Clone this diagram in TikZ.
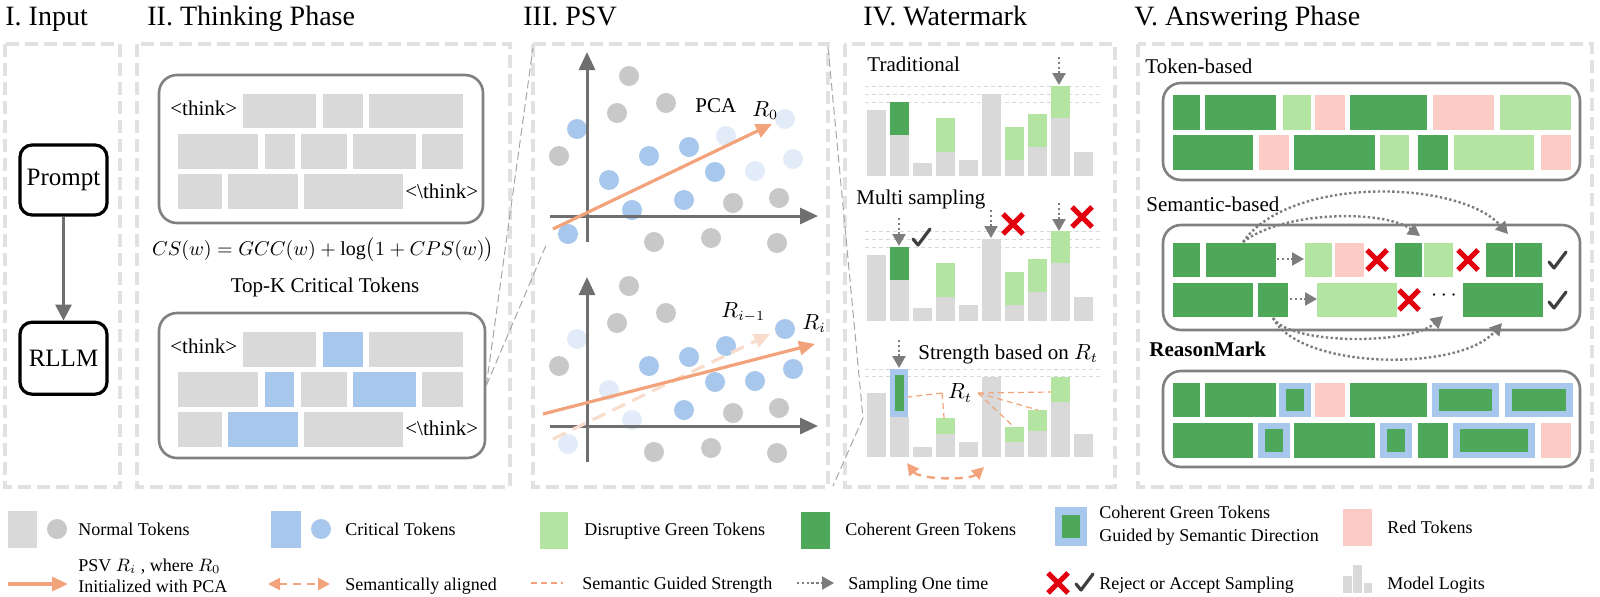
\documentclass[tikz,border=0pt]{standalone}
\usepackage{fontspec}
\setmainfont{Liberation Serif}
\usetikzlibrary{
  arrows.meta,
  positioning
}
\definecolor{tokengray}{HTML}{D9D9D9}
\definecolor{dotgray}{HTML}{C8C8C8}
\definecolor{critblue}{HTML}{A7C8EC}
\definecolor{paleblue}{HTML}{E2ECF8}
\definecolor{lightgreen}{HTML}{B4E4A1}
\definecolor{darkgreen}{HTML}{4DA85A}
\definecolor{redtoken}{HTML}{FBCBC5}
\definecolor{psvorange}{HTML}{F2A37B}
\definecolor{paleorange}{HTML}{F8DCCC}
\definecolor{axisgray}{HTML}{6F6F6F}
\definecolor{panelgray}{HTML}{E1E1E1}
\definecolor{boxgray}{HTML}{808080}
\definecolor{rejectred}{HTML}{E2000F}
\definecolor{acceptgray}{HTML}{3F3F3F}
\tikzset{
%
  % For the dashed frames of the phases.
  panel/.style={
    draw=panelgray,
    line width=1.6pt,
    dash pattern=on 6.5pt off 3pt},
%
  % For the titles of the phases.
  title/.style={
    anchor=base west,
    inner sep=0pt,
    font=\fontsize{14}{16}\selectfont},
%
  % For texts inside the phases.
  caption/.style={
    anchor=base west,
    inner sep=0pt,
    font=\fontsize{10.5}{12}\selectfont},
%
  % For texts of the legend.
  legend/.style={
    anchor=base west,
    inner sep=0pt,
    align=left,
    font=\fontsize{9}{11.5}\selectfont},
%
  % For the boxes of the input.
  input box/.style={
    draw,
    line width=1.6pt,
    rounded corners=6pt,
    minimum width=43.5pt,
    minimum height=35pt,
    font=\fontsize{12.5}{14}\selectfont},
%
  % For the boxes round a token sequence.
  seq box/.style={
    draw=boxgray,
    line width=1.3pt,
    rounded corners=9pt},
%
  % For the flow from the prompt to the model.
  flow/.style={
    draw=axisgray,
    line width=1.5pt,
    -{Triangle[length=8pt,width=8pt]}},
%
  % For the axes of the PSV plots.
  axis/.style={
    draw=axisgray,
    line width=1.5pt,
    -{Triangle[length=9pt,width=8pt]}},
%
  % For the semantic vector.
  psv/.style={
    draw=psvorange,
    line width=1.6pt,
    -{Triangle[length=8pt,width=7pt]}},
%
  % For the previous semantic vector.
  old psv/.style={
    draw=paleorange,
    line width=1.6pt,
    dash pattern=on 7pt off 4pt,
    -{Triangle[length=8pt,width=7pt]}},
%
  % For semantically aligned tokens.
  aligned/.style={
    draw=psvorange,
    line width=1.2pt,
    dash pattern=on 4pt off 3pt,
    {Triangle[length=6pt,width=6pt]}-{Triangle[length=6pt,width=6pt]}},
%
  % For the semantic guided strength.
  strength/.style={
    draw=psvorange,
    line width=0.6pt,
    dash pattern=on 3pt off 2pt},
%
  % For sampling one time.
  sample/.style={
    draw=axisgray!90,
    line width=1.2pt,
    dash pattern=on 1.2pt off 1.2pt,
    -{Triangle[length=6pt,width=6.5pt]}},
%
  % For the levels of the logits.
  level/.style={
    draw=tokengray,
    line width=0.5pt,
    dash pattern=on 2pt off 1.5pt},
%
  % For the zoom lines between phases.
  zoom line/.style={
    draw=gray!70,
    line width=0.5pt,
    dash pattern=on 4pt off 2pt},
%
  % For a rejected sample.
  reject/.pic={
    \draw[rejectred, line width=2.5pt] (-10,-10) -- (10,10) (-10,10) -- (10,-10);},
%
  % For an accepted sample.
  accept/.pic={
    \draw[acceptgray, line width=1.6pt, line cap=round, line join=round]
      (-8,1) -- (-3,7) -- (9,-9);}
}

\begin{document}
\begin{tikzpicture}[x=0.5pt, y=-0.5pt]
  \useasboundingbox (0,0) rectangle (1600,596);

  % phases
  \draw[panel] (5,44) rectangle (120,487);
  \draw[panel] (137,44) rectangle (510,487);
  \draw[panel] (533,44) rectangle (828,487);
  \draw[panel] (845,44) rectangle (1115,487);
  \draw[panel] (1138,44) rectangle (1592,487);
  \node[title] (T1) at (5,25) {I. Input};
  \node[title] (T2) at (147,25) {II. Thinking Phase};
  \node[title] (T3) at (523,25) {III. PSV};
  \node[title] (T4) at (863,25) {IV. Watermark};
  \node[title] (T5) at (1134,25) {V. Answering Phase};

  % I. Input
  \node[input box] (P) at (63.5,180) {Prompt};
  \node[input box, minimum height=36pt] (M) [below=52pt of P] {RLLM};
  \draw[flow] (P) -- (M);

  % II. Thinking Phase
  \node[seq box, minimum width=162pt, minimum height=74pt] (Think) at (321,149) {};
  \foreach \a/\b in {243/316,323/363,369/463}
    \fill[tokengray] (\a,94) rectangle (\b,128);
  \foreach \a/\b in {178/258,265/295,301/347,353/416,422/463}
    \fill[tokengray] (\a,134) rectangle (\b,169);
  \foreach \a/\b in {178/222,228/298,304/403}
    \fill[tokengray] (\a,174) rectangle (\b,209);
  \node[caption] (Th1) at (170,115) {<think>};
  \node[caption] (Th2) at (405,198) {<\textbackslash think>};

  \node[anchor=base, inner sep=0pt, font=\fontsize{10}{12}\selectfont] (CS)
    at (323,255) {$CS(w) = GCC(w) + \log\bigl(1 + CPS(w)\bigr)$};
  \node[caption, anchor=base] (TopK) at (325,292) {Top-K Critical Tokens};

  \node[seq box, minimum width=163pt, minimum height=72.5pt] (Crit) at (322,385.5) {};
  \foreach \a/\b/\c in {243/316/tokengray,323/363/critblue,369/463/tokengray}
    \fill[\c] (\a,332) rectangle (\b,367);
  \foreach \a/\b/\c in {178/258/tokengray,265/294/critblue,301/347/tokengray,
                        353/416/critblue,422/463/tokengray}
    \fill[\c] (\a,372) rectangle (\b,407);
  \foreach \a/\b/\c in {178/222/tokengray,228/298/critblue,304/403/tokengray}
    \fill[\c] (\a,412) rectangle (\b,447);
  \node[caption] (Th3) at (170,353) {<think>};
  \node[caption] (Th4) at (405,435) {<\textbackslash think>};

  % III. PSV
  \coordinate (PsvTop) at (533,48);
  \coordinate (PsvLow) at (547,243);
  \draw[zoom line] (Crit.east) -- (PsvTop);
  \draw[zoom line] (Crit.east) -- (PsvLow);

  \foreach \x/\y in {629/76,617/113,666/103,559/156,733/203,779/198,654/242,711/238,777/243,
                     629/286,617/323,666/313,559/366,733/413,779/408,654/452,711/448,777/453}
    \fill[dotgray] (\x,\y) circle (5pt);
  \foreach \x/\y in {577/129,649/156,689/147,609/180,715/172,632/210,684/200,568/234,
                     649/366,689/357,715/382,684/410,726/346,785/329,755/381,793/369}
    \fill[critblue] (\x,\y) circle (5pt);
  \foreach \x/\y in {726/136,785/119,755/171,793/159,
                     577/339,609/390,632/420,568/444}
    \fill[paleblue] (\x,\y) circle (5pt);

  \coordinate (X1a) at (550,216);
  \coordinate (X1b) at (818,216);
  \coordinate (Y1a) at (587,242);
  \coordinate (Y1b) at (587,52);
  \coordinate (X2a) at (550,426);
  \coordinate (X2b) at (818,426);
  \coordinate (Y2a) at (587,462);
  \coordinate (Y2b) at (587,277);
  \draw[axis] (X1a) -- (X1b);
  \draw[axis] (Y1a) -- (Y1b);
  \draw[axis] (X2a) -- (X2b);
  \draw[axis] (Y2a) -- (Y2b);

  \coordinate (R0a) at (553,229);
  \coordinate (R0b) at (772,124);
  \coordinate (Rpa) at (553,439);
  \coordinate (Rpb) at (770,334);
  \coordinate (Ria) at (543,414);
  \coordinate (Rib) at (815,344);
  \draw[psv] (R0a) -- (R0b);
  \draw[old psv] (Rpa) -- (Rpb);
  \draw[psv] (Ria) -- (Rib);
  \node[caption] (PCA) at (695,112) {PCA};
  \node[caption] (R0) at (752,116) {$R_0$};
  \node[caption] (Rp) at (721,317) {$R_{i-1}$};
  \node[caption] (Ri) at (802,329) {$R_i$};

  % IV. Watermark
  \coordinate (PsvNE) at (828,47);
  \coordinate (PsvSE) at (833,486);
  \coordinate (Focus) at (863,418);
  \draw[zoom line] (PsvNE) -- (Focus) -- (PsvSE);

  \node[caption] (Trad) at (867,71) {Traditional};
  \node[caption] (Multi) at (856,204) {Multi sampling};
  \node[caption] (Str) at (918,359) {Strength based on $R_t$};

  \foreach \l in {86,94,102,231,239,247,369,376}
    \draw[level] (865,\l) -- (1103,\l);
  \foreach \base in {176,321} {
    \foreach \k/\h in {0/66,1/41,2/13,3/24,4/16,5/82,6/16,7/29,8/58,9/24}
      \fill[tokengray] ({867+23*\k},\base) rectangle ++(18.5,-\h);
    \foreach \k/\h/\g/\c in {1/41/33/darkgreen,3/24/34/lightgreen,6/16/33/lightgreen,
                             7/29/33/lightgreen,8/58/32/lightgreen}
      \fill[\c] ({867+23*\k},{\base-\h}) rectangle ++(18.5,-\g);
  }
  \foreach \k/\h in {0/64,1/40,2/10,3/23,4/15,5/80,6/15,7/26,8/55,9/23}
    \fill[tokengray] ({867+23*\k},457) rectangle ++(18.5,-\h);
  \foreach \k/\h/\g in {3/23/16,6/15/15,7/26/21,8/55/25}
    \fill[lightgreen] ({867+23*\k},{457-\h}) rectangle ++(18.5,-\g);
  \fill[critblue] (890,417) rectangle (908,369);
  \fill[darkgreen] (894.5,411) rectangle (903.5,375);

  \coordinate (Ta) at (1059,57);
  \coordinate (Tb) at (1059,85);
  \coordinate (Ma1) at (899,218);
  \coordinate (Mb1) at (899,246);
  \coordinate (Ma2) at (991,210);
  \coordinate (Mb2) at (991,238);
  \coordinate (Ma3) at (1059,203);
  \coordinate (Mb3) at (1059,231);
  \coordinate (Sa) at (899,340);
  \coordinate (Sb) at (899,368);
  \draw[sample] (Ta) -- (Tb);
  \draw[sample] (Ma1) -- (Mb1);
  \draw[sample] (Ma2) -- (Mb2);
  \draw[sample] (Ma3) -- (Mb3);
  \draw[sample] (Sa) -- (Sb);
  \pic at (921,238) {accept};
  \pic at (1013,224) {reject};
  \pic at (1082,217) {reject};

  \node[font=\fontsize{10.5}{12}\selectfont, minimum width=17.5pt, inner sep=0pt]
    (Rt) at (960,393) {$R_t$};
  \coordinate (Bar1) at (908,397);
  \coordinate (Bar3) at (944,418);
  \coordinate (Bar6) at (1014,427);
  \coordinate (Bar7) at (1038,410);
  \coordinate (Bar8) at (1051,392);
  \draw[strength] (Rt.west) -- (Bar1);
  \draw[strength] (Rt.west) -- (Bar3);
  \draw[strength] (Rt.east) -- (Bar6);
  \draw[strength] (Rt.east) -- (Bar7);
  \draw[strength] (Rt.east) -- (Bar8);
  \coordinate (Al1) at (907,463);
  \coordinate (Al2) at (984,467);
  \draw[aligned] (Al1) .. controls (920,480) and (970,480) .. (Al2);

  % V. Answering Phase
  \node[caption] (Tok) at (1145,73) {Token-based};
  \node[seq box, minimum width=208.5pt, minimum height=48.5pt] (TokBox) at (1371.5,131.5) {};
  \foreach \a/\b/\c in {1173/1200/darkgreen,1205/1276/darkgreen,1283/1311/lightgreen,
                        1315/1345/redtoken,1350/1427/darkgreen,1433/1494/redtoken,
                        1500/1571/lightgreen}
    \fill[\c] (\a,95) rectangle (\b,130);
  \foreach \a/\b/\c in {1173/1253/darkgreen,1259/1289/redtoken,1294/1375/darkgreen,
                        1380/1409/lightgreen,1418/1448/darkgreen,1454/1534/lightgreen,
                        1541/1571/redtoken}
    \fill[\c] (\a,135) rectangle (\b,170);

  \node[caption] (Sem) at (1146,211) {Semantic-based};
  \node[seq box, minimum width=208.5pt, minimum height=52.5pt] (SemBox) at (1371.5,277.5) {};
  \foreach \a/\b/\c in {1173/1200/darkgreen,1206/1276/darkgreen,1305/1332/lightgreen,
                        1335/1364/redtoken,1395/1422/darkgreen,1424/1453/lightgreen,
                        1486/1513/darkgreen,1515/1542/darkgreen}
    \fill[\c] (\a,243) rectangle (\b,277);
  \foreach \a/\b/\c in {1173/1253/darkgreen,1258/1288/darkgreen,1317/1397/lightgreen,
                        1463/1543/darkgreen}
    \fill[\c] (\a,283) rectangle (\b,317);
  \coordinate (Sa1) at (1277,259);
  \coordinate (Sb1) at (1304,259);
  \coordinate (Sa2) at (1290,299);
  \coordinate (Sb2) at (1317,299);
  \draw[sample] (Sa1) -- (Sb1);
  \draw[sample] (Sa2) -- (Sb2);
  \pic at (1377,260) {reject};
  \pic at (1468,260) {reject};
  \pic at (1409,300) {reject};
  \pic at (1557,261) {accept};
  \pic at (1557,301) {accept};
  \node[inner sep=0pt, font=\fontsize{10.5}{12}\selectfont] (Dots) at (1444,296) {$\cdots$};
  \coordinate (Up) at (1243,242);
  \coordinate (UpA) at (1420,236);
  \coordinate (UpB) at (1508,234);
  \coordinate (Dn) at (1273,318);
  \coordinate (DnA) at (1443,316);
  \coordinate (DnB) at (1502,323);
  \draw[sample] (Up) .. controls (1285,210) and (1385,210) .. (UpA);
  \draw[sample] (Up) .. controls (1290,175) and (1460,180) .. (UpB);
  \draw[sample] (Dn) .. controls (1290,345) and (1410,345) .. (DnA);
  \draw[sample] (Dn) .. controls (1300,370) and (1460,372) .. (DnB);

  \node[caption, font=\fontsize{10.5}{12}\selectfont\bfseries] (RM) at (1149,356) {ReasonMark};
  \node[seq box, minimum width=208.5pt, minimum height=48pt] (RMBox) at (1371.5,419) {};
  \foreach \a/\b/\c in {1173/1200/darkgreen,1205/1276/darkgreen,1315/1345/redtoken,
                        1350/1427/darkgreen}
    \fill[\c] (\a,383) rectangle (\b,417);
  \foreach \a/\b in {1279/1311,1432/1499,1505/1573} {
    \fill[critblue] (\a,383) rectangle (\b,417);
    \fill[darkgreen] ({\a+7},389) rectangle ({\b-7},411);
  }
  \foreach \a/\b/\c in {1173/1253/darkgreen,1294/1375/darkgreen,1418/1448/darkgreen,
                        1541/1571/redtoken}
    \fill[\c] (\a,423) rectangle (\b,458);
  \foreach \a/\b in {1258/1290,1380/1412,1453/1535} {
    \fill[critblue] (\a,423) rectangle (\b,458);
    \fill[darkgreen] ({\a+7},429) rectangle ({\b-7},452);
  }

  % legend
  \fill[tokengray] (8,511) rectangle (37,548);
  \fill[dotgray] (57,529) circle (5pt);
  \node[legend] (LNormal) at (78,535) {Normal Tokens};
  \fill[critblue] (271,511) rectangle (301,548);
  \fill[critblue] (321,529) circle (5pt);
  \node[legend] (LCrit) at (345,535) {Critical Tokens};
  \fill[lightgreen] (540,512) rectangle (568,549);
  \node[legend] (LDis) at (584,535) {Disruptive Green Tokens};
  \fill[darkgreen] (801,512) rectangle (830,549);
  \node[legend] (LCoh) at (845,535) {Coherent Green Tokens};
  \fill[critblue] (1055,507) rectangle (1087,546);
  \fill[darkgreen] (1062,515) rectangle (1080,538);
  \node[legend, anchor=west] (LGuide) at (1099,526)
    {Coherent Green Tokens\\Guided by Semantic Direction};
  \fill[redtoken] (1343,509) rectangle (1372,546);
  \node[legend] (LRed) at (1387,533) {Red Tokens};

  \coordinate (LPa) at (8,584);
  \coordinate (LPb) at (68,584);
  \draw[psv] (LPa) -- (LPb);
  \node[legend, anchor=south west, font=\fontsize{9}{10.5}\selectfont] (LPsv) at (78,593)
    {PSV $R_i$ , where $R_0$\\Initialized with PCA};
  \coordinate (LAa) at (268,584);
  \coordinate (LAb) at (330,584);
  \draw[aligned] (LAa) -- (LAb);
  \node[legend] (LAlign) at (345,590) {Semantically aligned};
  \coordinate (LSa) at (531,583);
  \coordinate (LSb) at (563,583);
  \draw[strength] (LSa) -- (LSb);
  \node[legend] (LStr) at (582,589) {Semantic Guided Strength};
  \coordinate (LOa) at (797,583);
  \coordinate (LOb) at (834,583);
  \draw[sample] (LOa) -- (LOb);
  \node[legend] (LOne) at (848,589) {Sampling One time};
  \pic at (1058,583) {reject};
  \pic at (1084,583) {accept};
  \node[legend] (LRej) at (1099,589) {Reject or Accept Sampling};
  \fill[tokengray] (1343,593) rectangle (1352,576);
  \fill[tokengray] (1353,593) rectangle (1362,565);
  \fill[tokengray] (1364,593) rectangle (1372,583);
  \node[legend] (LLog) at (1387,589) {Model Logits};
\end{tikzpicture}
\end{document}
